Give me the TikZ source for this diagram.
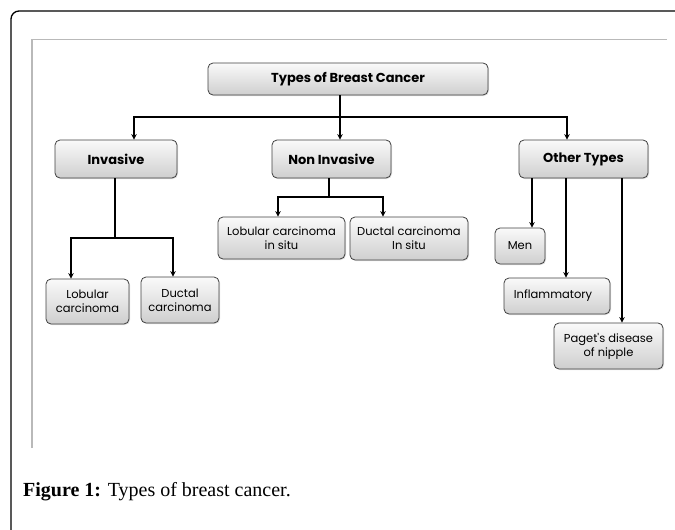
\documentclass[tikz,border=0pt]{standalone}
\usepackage{fontspec}
\setmainfont{Liberation Serif}
\newfontfamily\boxfont{Poppins}
\usetikzlibrary{arrows.meta,shadows}
\tikzset{
  box/.style={draw=black!75, line width=0.8pt, rounded corners=5pt,
    top color=gray!4, bottom color=gray!38, inner sep=0pt, align=center,
    font=\boxfont\fontsize{11.5}{14}\selectfont,
    drop shadow={opacity=0.25, shadow xshift=1pt, shadow yshift=-1pt}},
  boldbox/.style={box, font=\boxfont\bfseries\fontsize{13}{15}\selectfont},
  conn/.style={line width=1.4pt, black},
  arr/.style={conn, -{Stealth[length=5.5pt,width=5.5pt]}},
}
\begin{document}
\begin{tikzpicture}[x=1pt,y=-1pt]
\useasboundingbox (0,0) rectangle (675,530);
% outer frame
\begin{scope}
\clip (0,0) rectangle (675,530);
\draw[line width=1.3pt, rounded corners=8pt] (11,560) -- (11,11) -- (700,11);
\end{scope}
% inner gray frame
\draw[gray!55, line width=1pt] (32,39) -- (667,39);
\draw[gray!55, line width=2.2pt] (32,448) -- (32,39);
% nodes
\node[boldbox, minimum width=280pt, minimum height=32pt] (title) at (348,79) {Types of Breast Cancer};
\node[boldbox, minimum width=122pt, minimum height=38pt] (inv) at (116,159) {Invasive};
\node[boldbox, minimum width=119pt, minimum height=38pt] (non) at (331.5,159) {Non Invasive};
\node[boldbox, minimum width=129pt, minimum height=38pt] (oth) at (583.5,159) {Other Types};
\node[box, minimum width=83pt, minimum height=45pt] (lob) at (87.5,301.5) {Lobular\\carcinoma};
\node[box, minimum width=78pt, minimum height=46pt] (duc) at (180,300) {Ductal\\carcinoma};
\node[box, minimum width=127pt, minimum height=42pt] (lcis) at (281.5,238) {Lobular carcinoma\\in situ};
\node[box, minimum width=118pt, minimum height=43pt] (dcis) at (409,238.5) {Ductal carcinoma\\In situ};
\node[box, minimum width=50pt, minimum height=36pt] (men) at (520,246) {Men};
\node[box, minimum width=106pt, minimum height=36pt] (infl) at (557,296) {\hspace*{-8pt}Inflammatory};
\node[box, minimum width=109pt, minimum height=46pt] (pag) at (608.5,346) {Paget's disease\\of nipple};
% caption
\node[anchor=base west, inner sep=0pt, font=\fontsize{20}{24}\selectfont] (cap) at (23,496) {\textbf{Figure 1:} Types of breast cancer.};
% connector coordinates
\coordinate (bc) at (340,117);
\coordinate (bl) at (134,117);
\coordinate (br) at (567,117);
\coordinate (ij) at (115,238);
\coordinate (il) at (71,238);
\coordinate (ir) at (173,238);
\coordinate (nj) at (329,197);
\coordinate (nl) at (278,197);
\coordinate (nr) at (383,197);
\coordinate (o1) at (532,178);
\coordinate (o2) at (566,178);
\coordinate (o3) at (622,178);
% connectors
\draw[conn] (title.south -| bc) -- (bc);
\draw[arr] (bc) -- (bl) -- (bl |- inv.north);
\draw[arr] (bc) -- (br) -- (br |- oth.north);
\draw[arr] (bc) -- (bc |- non.north);
\draw[conn] (inv.south -| ij) -- (ij);
\draw[arr] (ij) -- (il) -- (il |- lob.north);
\draw[arr] (ij) -- (ir) -- (ir |- duc.north);
\draw[conn] (non.south -| nj) -- (nj);
\draw[arr] (nj) -- (nl) -- (nl |- lcis.north);
\draw[arr] (nj) -- (nr) -- (nr |- dcis.north);
\draw[arr] (o1 |- oth.south) -- (o1 |- men.north);
\draw[arr] (o2 |- oth.south) -- (o2 |- infl.north);
\draw[arr] (o3 |- oth.south) -- (o3 |- pag.north);
\end{tikzpicture}
\end{document}
